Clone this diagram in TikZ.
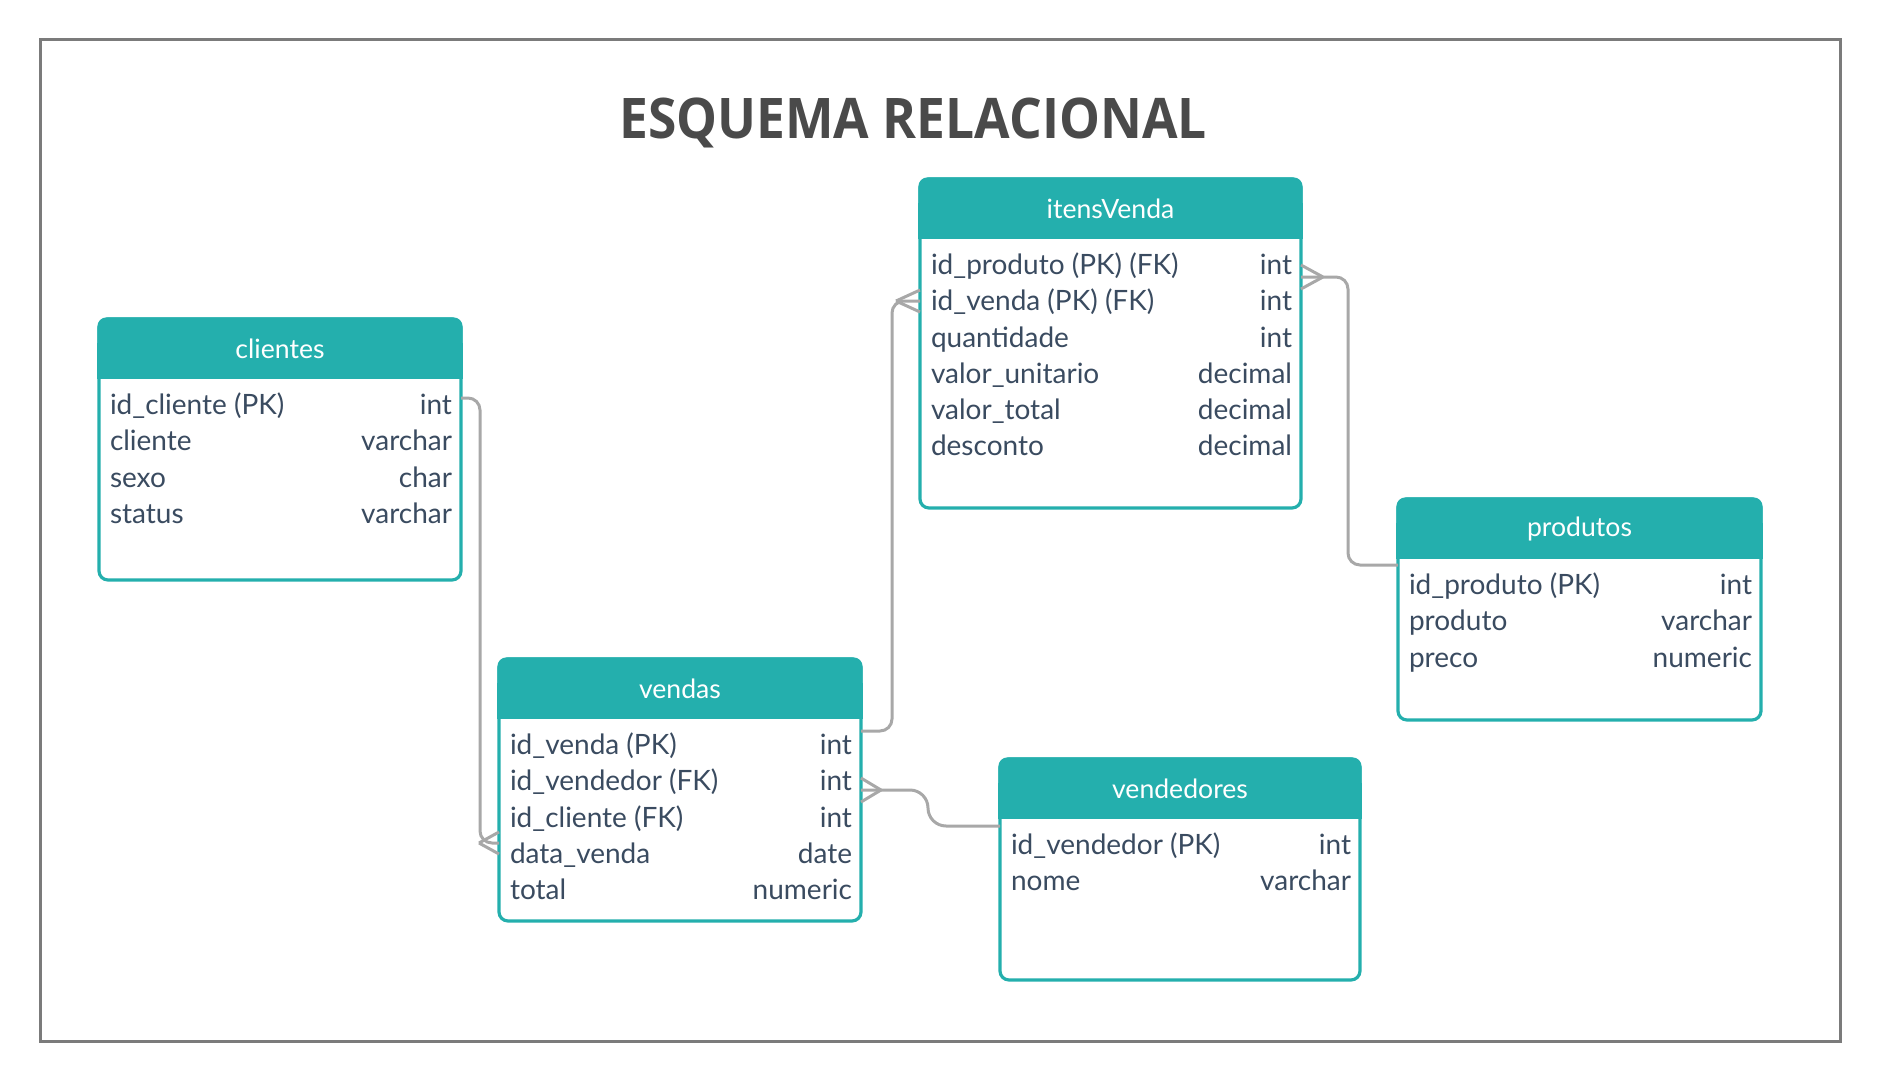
\documentclass[tikz,border=0pt]{standalone}
\usepackage{fontspec}
\setmainfont{Lato}
\newfontfamily\titlefont{Open Sans}
\usetikzlibrary{positioning, calc, fit}
\definecolor{tealHead}{HTML}{24AFAD}
\definecolor{linkGray}{HTML}{A8A8A8}
\definecolor{frameGray}{HTML}{7B7B7B}
\definecolor{textMain}{HTML}{3A4B60}
\definecolor{titleGray}{HTML}{4A4A4A}
\tikzset{
  tablebox/.style={
    draw=tealHead, fill=white, line width=1.6pt, rounded corners=4.5pt,
    inner sep=0pt, outer sep=0pt,
  },
  headtext/.style={
    font=\fontsize{13.3}{15}\selectfont, text=white, inner sep=0pt,
  },
  field/.style={
    anchor=west, inner sep=0pt, font=\fontsize{14}{16}\selectfont, text=textMain,
    text height=0.72em, text depth=0pt,
  },
  ftype/.style={field, anchor=east},
  link/.style={draw=linkGray, line width=1.5pt, rounded corners=6pt},
  crow/.style={draw=linkGray, line width=1.5pt},
}

\begin{document}
\begin{tikzpicture}[x=0.5pt, y=-0.5pt]
  \useasboundingbox (0,0) rectangle (1880,1081);

  % === Frame and title ===
  \draw[frameGray, line width=1.5pt] (40,40) rectangle (1840,1041);
  \node[anchor=base, inner sep=0pt, text=titleGray, font=\titlefont\bfseries\fontsize{28}{32}\selectfont]
    (title) at (913,139) {\scalebox{0.92}[1]{ESQUEMA RELACIONAL}};

  % === Tables ===
  \node[tablebox, fit={(99,319) (461,580)}] (cli) {};
  \node[tablebox, fit={(499,659) (861,921)}] (ven) {};
  \node[tablebox, fit={(920,179) (1301,508)}] (itv) {};
  \node[tablebox, fit={(1398,499) (1761,720)}] (pro) {};
  \node[tablebox, fit={(1000,759) (1360,980)}] (vdd) {};

  % headers: rounded top, square bottom
  \foreach \t/\name in {cli/clientes, ven/vendas, itv/itensVenda, pro/produtos, vdd/vendedores}{
    \fill[tealHead, rounded corners=4.5pt] ([xshift=-0.8pt, yshift=0.8pt]\t.north west) rectangle ([xshift=0.8pt, yshift=-29.8pt]\t.north east);
    \fill[tealHead] ([xshift=-0.8pt, yshift=-12pt]\t.north west) rectangle ([xshift=0.8pt, yshift=-29.8pt]\t.north east);
    \node[headtext] (\t-head) at ([yshift=-15pt]\t.north) {\name};
  }

  % === Fields ===
  \foreach \f/\ty [count=\i] in {{id\_cliente (PK)}/int, cliente/varchar, sexo/char, status/varchar}{
    \node[field] (cli-f\i) at ([xshift=5.3pt, yshift={-44.2pt-(\i-1)*18.1pt}]cli.north west) {\f};
    \node[ftype] (cli-t\i) at ([xshift=-4.3pt, yshift={-44.2pt-(\i-1)*18.1pt}]cli.north east) {\ty};
  }
  \foreach \f/\ty [count=\i] in {{id\_venda (PK)}/int, {id\_vendedor (FK)}/int, {id\_cliente (FK)}/int, data\_venda/date, total/numeric}{
    \node[field] (ven-f\i) at ([xshift=5.3pt, yshift={-44.2pt-(\i-1)*18.1pt}]ven.north west) {\f};
    \node[ftype] (ven-t\i) at ([xshift=-4.3pt, yshift={-44.2pt-(\i-1)*18.1pt}]ven.north east) {\ty};
  }
  \foreach \f/\ty [count=\i] in {{id\_produto (PK) (FK)}/int, {id\_venda (PK) (FK)}/int, quantidade/int, valor\_unitario/decimal, valor\_total/decimal, desconto/decimal}{
    \node[field] (itv-f\i) at ([xshift=5.3pt, yshift={-44.2pt-(\i-1)*18.1pt}]itv.north west) {\f};
    \node[ftype] (itv-t\i) at ([xshift=-4.3pt, yshift={-44.2pt-(\i-1)*18.1pt}]itv.north east) {\ty};
  }
  \foreach \f/\ty [count=\i] in {{id\_produto (PK)}/int, produto/varchar, preco/numeric}{
    \node[field] (pro-f\i) at ([xshift=5.3pt, yshift={-44.2pt-(\i-1)*18.1pt}]pro.north west) {\f};
    \node[ftype] (pro-t\i) at ([xshift=-4.3pt, yshift={-44.2pt-(\i-1)*18.1pt}]pro.north east) {\ty};
  }
  \foreach \f/\ty [count=\i] in {{id\_vendedor (PK)}/int, nome/varchar}{
    \node[field] (vdd-f\i) at ([xshift=5.3pt, yshift={-44.2pt-(\i-1)*18.1pt}]vdd.north west) {\f};
    \node[ftype] (vdd-t\i) at ([xshift=-4.3pt, yshift={-44.2pt-(\i-1)*18.1pt}]vdd.north east) {\ty};
  }

  % === Connectors ===
  % clientes -> vendas
  \coordinate (c1a) at ([yshift=-39.5pt]cli.north east);
  \coordinate (c1b) at ([yshift=-92pt]ven.north west);
  \draw[link] (c1a) -- ++(19,0) |- (c1b);
  \draw[crow] ([xshift=-10pt]c1b) -- ([yshift=5.5pt]c1b) ([xshift=-10pt]c1b) -- ([yshift=-5.5pt]c1b);

  % vendas -> itensVenda
  \coordinate (c2a) at ([yshift=-36pt]ven.north east);
  \coordinate (c2b) at ([yshift=-61pt]itv.north west);
  \draw[link] (c2a) -- ++(31,0) |- (c2b);
  \draw[crow] ([xshift=-12pt]c2b) -- ([yshift=5.5pt]c2b) ([xshift=-12pt]c2b) -- ([yshift=-5.5pt]c2b);

  % itensVenda -> produtos
  \coordinate (c3a) at ([yshift=-49pt]itv.north east);
  \coordinate (c3b) at ([yshift=-33pt]pro.north west);
  \draw[link] (c3a) -- ++(47,0) |- (c3b);
  \draw[crow] ([xshift=11pt]c3a) -- ([yshift=6pt]c3a) ([xshift=11pt]c3a) -- ([yshift=-6pt]c3a);

  % vendas -> vendedores
  \coordinate (c4a) at ([yshift=-65.5pt]ven.north east);
  \coordinate (c4b) at ([yshift=-33.5pt]vdd.north west);
  \draw[link, rounded corners=9pt] (c4a) -- ++(67,0) |- (c4b);
  \draw[crow] ([xshift=10pt]c4a) -- ([yshift=6pt]c4a) ([xshift=10pt]c4a) -- ([yshift=-6pt]c4a);

\end{tikzpicture}
\end{document}
